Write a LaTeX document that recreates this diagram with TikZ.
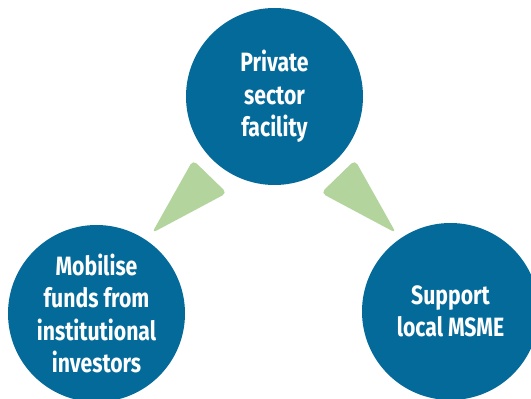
\documentclass[tikz,border=0pt]{standalone}
\usepackage{fontspec}
\setsansfont{Fira Sans}[FakeStretch=0.8]
\definecolor{circblue}{RGB}{4,106,154}
\definecolor{arrgreen}{RGB}{179,212,156}
\tikzset{
  bubble/.style={circle, fill=circblue, minimum size=177pt, inner sep=0pt,
    text=white, align=center, font=\sffamily\bfseries\fontsize{26.5}{32.5}\selectfont},
  pointer/.style={fill=arrgreen, rounded corners=5pt}
}
\begin{document}
\begin{tikzpicture}[x=1pt, y=1pt]
    		\useasboundingbox (0,0) rectangle (531,399);
    	
    		% circles
    		\node[bubble] (facility) at (274.5,302.5) {Private\\sector\\facility};
    		\node[bubble] (mobilise) at (96.5,85.5) {Mobilise\\funds from\\institutional\\investors};
    		\node[bubble] (support) at (450.5,87.5) {Support\\local MSME};
    	
    		% green pointers
    		\fill[pointer] (193,239) -- (227,206) -- (152,166) -- cycle;
    		\fill[pointer] (355,239) -- (321,206) -- (396,166) -- cycle;
		      
		\end{tikzpicture}
\end{document}
